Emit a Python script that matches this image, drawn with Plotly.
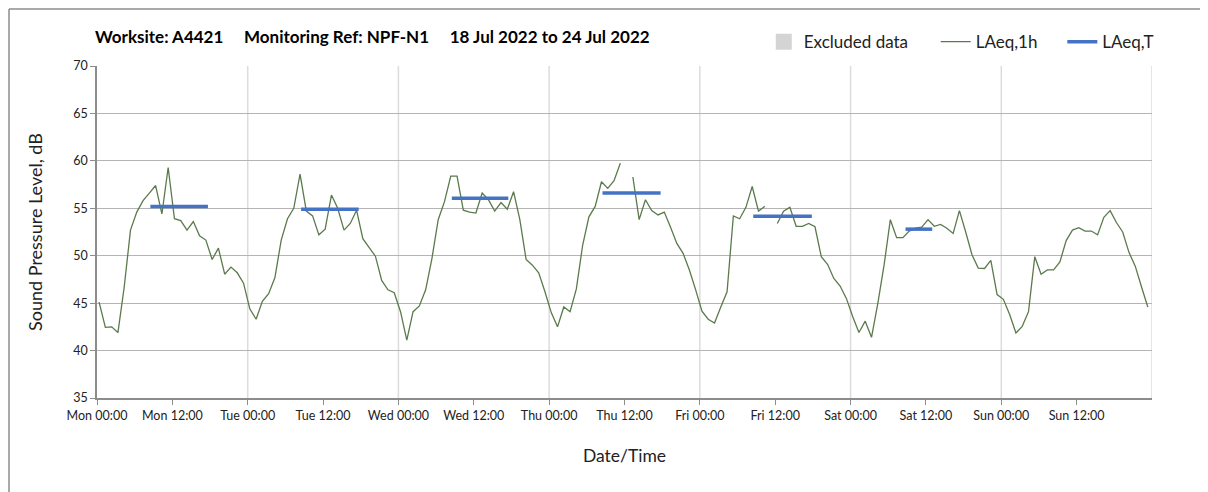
import pandas as pd
import plotly.graph_objects as go

# Hourly LAeq,1h values, Mon 18 Jul 2022 00:00 onwards (None = excluded hour)
mon = [45.1, 42.45, 42.5, 41.9, 46.7, 52.7, 54.6, 55.8, 56.6, 57.4, 54.4, 59.3,
       53.9, 53.7, 52.7, 53.6, 52.1, 51.65, 49.6, 50.8, 48.05, 48.8, 48.2, 47.1]
tue = [44.4, 43.3, 45.2, 46.0, 47.7, 51.65, 53.9, 55.0, 58.6, 54.7, 54.2, 52.2,
       52.8, 56.4, 55.0, 52.7, 53.4, 54.8, 51.8, 50.9, 49.95, 47.4, 46.4, 46.1]
wed = [44.1, 41.1, 44.1, 44.7, 46.4, 49.7, 53.8, 55.7, 58.4, 58.4, 54.8, 54.6,
       54.5, 56.6, 55.9, 54.7, 55.6, 54.9, 56.75, 53.8, 49.6, 49.0, 48.2, 46.2]
thu = [44.0, 42.5, 44.6, 44.1, 46.5, 51.1, 54.1, 55.2, 57.8, 57.1, 57.9, 59.75,
       None, 58.3, 53.8, 55.9, 54.75, 54.3, 54.6, 53.0, 51.3, 50.25, 48.5, 46.4]
fri = [44.15, 43.3, 42.9, 44.6, 46.2, 54.2, 53.9, 55.1, 57.3, 54.7, 55.2, None,
       53.4, 54.7, 55.1, 53.1, 53.1, 53.4, 53.05, 49.9, 49.1, 47.6, 46.8, 45.5]
sat = [43.6, 41.9, 43.1, 41.4, 44.95, 49.0, 53.8, 51.9, 51.9, 52.6, 52.9, 53.0,
       53.8, 53.1, 53.3, 52.9, 52.35, 54.75, 52.5, 50.1, 48.7, 48.65, 49.5, 45.9]
sun = [45.4, 43.8, 41.85, 42.55, 44.1, 49.9, 48.05, 48.5, 48.5, 49.35, 51.6, 52.7,
       52.95, 52.6, 52.6, 52.2, 54.05, 54.75, 53.5, 52.5, 50.35, 48.9, 46.7, 44.6]
laeq_1h = mon + tue + wed + thu + fri + sat + sun

# Daytime LAeq,T periods
period_start = ["2022-07-18 08:30", "2022-07-19 08:30", "2022-07-20 08:30",
                "2022-07-21 08:30", "2022-07-22 08:30", "2022-07-23 08:45"]
period_end = ["2022-07-18 17:40", "2022-07-19 17:40", "2022-07-20 17:30",
              "2022-07-21 17:45", "2022-07-22 17:50", "2022-07-23 13:00"]
laeq_t = [55.2, 54.9, 56.05, 56.6, 54.15, 52.8]

tick_text = ["Mon 00:00", "Mon 12:00", "Tue 00:00", "Tue 12:00", "Wed 00:00", "Wed 12:00",
             "Thu 00:00", "Thu 12:00", "Fri 00:00", "Fri 12:00", "Sat 00:00", "Sat 12:00",
             "Sun 00:00", "Sun 12:00"]

FONT = "Lato"
FMT = "%Y-%m-%d %H:%M"
times = pd.date_range("2022-07-18 00:20", periods=len(laeq_1h), freq="h").strftime(FMT).tolist()
tick_vals = pd.date_range("2022-07-18 00:00", periods=len(tick_text), freq="12h").strftime(FMT).tolist()

# build the broken LAeq,T line
tx, ty = [], []
for s, e, v in zip(period_start, period_end, laeq_t):
    tx += [s, e, None]
    ty += [v, v, None]

fig = go.Figure()
fig.add_trace(go.Scatter(
    x=times, y=laeq_1h, mode="lines", name="LAeq,1h", legend="legend2",
    line=dict(color="#5b7a4c", width=1.3), connectgaps=False
))
fig.add_trace(go.Scatter(
    x=tx, y=ty, mode="lines", name="LAeq,T", legend="legend3",
    line=dict(color="#4472c4", width=3.5)
))
fig.add_trace(go.Scatter(
    x=[times[0]], y=[None], mode="markers", name="Excluded data", legend="legend",
    marker=dict(symbol="square", size=16, color="#d4d4d4")
))

# light vertical gridlines at midnight
for d in pd.date_range("2022-07-19", periods=7, freq="D").strftime(FMT):
    fig.add_shape(type="line", x0=d, x1=d, y0=0, y1=1, xref="x", yref="paper",
                  line=dict(color="#dcdcdc", width=1.5), layer="below")

# outer chart frame (left and top edges)
fig.add_shape(type="line", xref="paper", yref="paper", x0=-0.0834, x1=-0.0834, y0=-0.4, y1=1.172,
              line=dict(color="#8c8c8c", width=1.5))
fig.add_shape(type="line", xref="paper", yref="paper", x0=-0.0834, x1=1.2, y0=1.172, y1=1.172,
              line=dict(color="#8c8c8c", width=1.5))

leg = dict(orientation="h", yanchor="middle", y=1.072, xanchor="left",
           font=dict(family=FONT, size=17, color="#222"), bgcolor="rgba(0,0,0,0)", itemwidth=30)

fig.update_layout(
    width=1208, height=492,
    margin=dict(l=89, r=64, t=58, b=102),
    paper_bgcolor="white", plot_bgcolor="white",
    font=dict(family=FONT, size=12, color="#222"),
    title=dict(
        text="<b>Worksite: A4421&nbsp;&nbsp;&nbsp;&nbsp;&nbsp;Monitoring Ref: NPF-N1&nbsp;&nbsp;&nbsp;&nbsp;&nbsp;18 Jul 2022 to 24 Jul 2022</b>",
        x=87 / 1208, xanchor="left", y=1 - 29 / 492, yanchor="middle",
        font=dict(family=FONT, size=17, color="#000")
    ),
    legend=dict(leg, x=0.632),
    legend2=dict(leg, x=0.795),
    legend3=dict(leg, x=0.915),
    showlegend=True,
)
fig.update_xaxes(
    type="date", automargin=False,
    range=["2022-07-18 00:00", "2022-07-25 00:00"],
    tickvals=tick_vals, ticktext=tick_text,
    showgrid=False, showline=True, linecolor="#8c8c8c", linewidth=1.5,
    ticks="outside", ticklen=5, tickcolor="#8c8c8c",
    tickfont=dict(family=FONT, size=12.5, color="#222"),
    title=dict(text="Date/Time", font=dict(family=FONT, size=17.5, color="#222"), standoff=28),
    zeroline=False
)
fig.update_yaxes(
    automargin=False,
    range=[35, 70], dtick=5,
    showgrid=True, gridcolor="#b4b4b4", gridwidth=1,
    showline=True, linecolor="#8c8c8c", linewidth=1.5,
    ticks="outside", ticklen=5, tickcolor="#8c8c8c",
    tickfont=dict(family=FONT, size=12.5, color="#222"),
    title=dict(text="Sound Pressure Level, dB", font=dict(family=FONT, size=18, color="#222"), standoff=26),
    zeroline=False
)

fig.write_html("out.html")
